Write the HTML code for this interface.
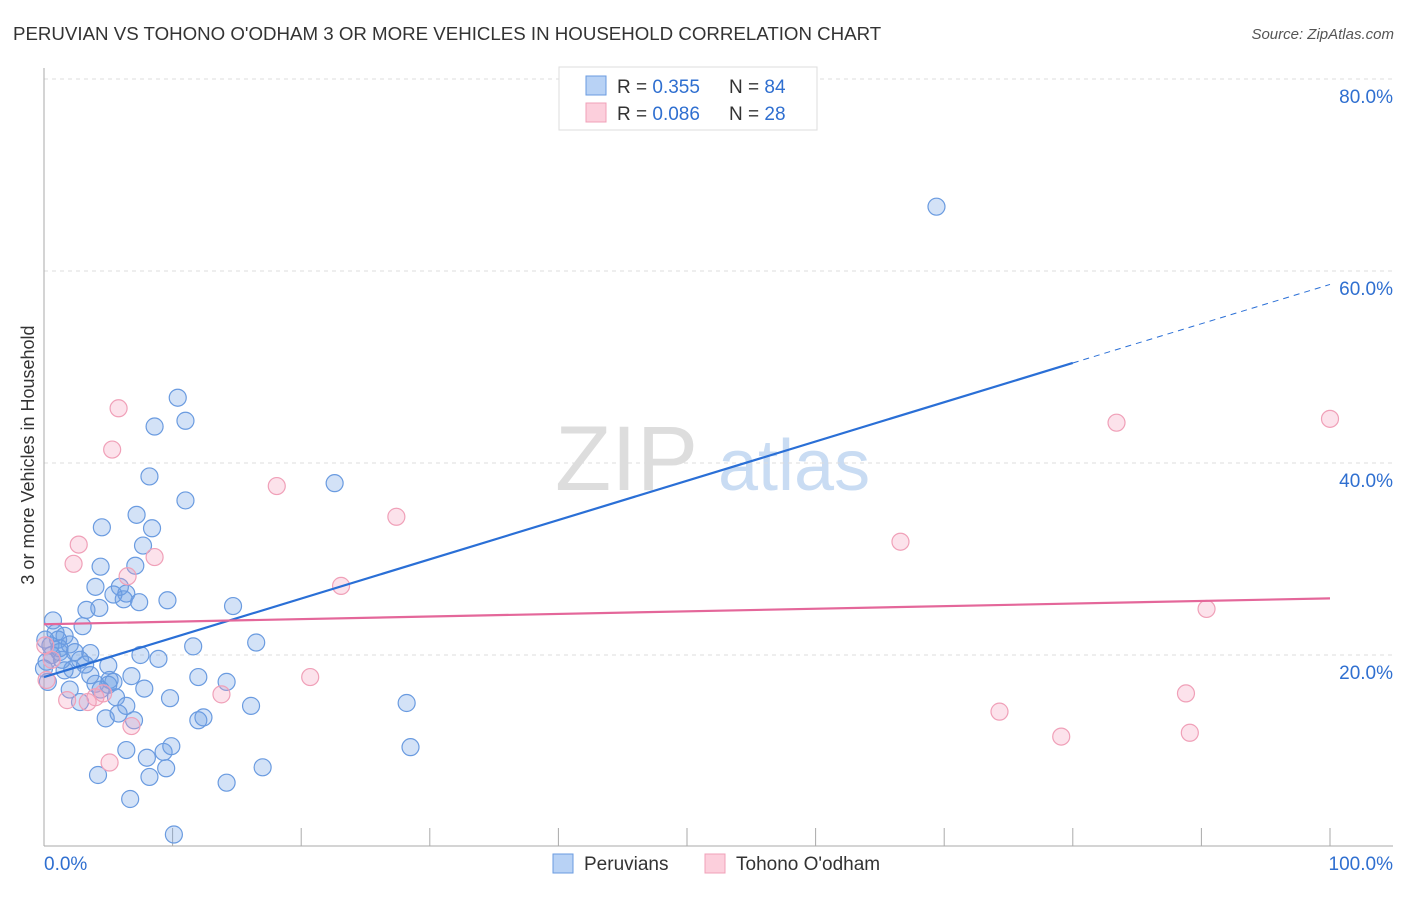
<!DOCTYPE html>
<html><head><meta charset="utf-8"><style>
body{margin:0;background:#fff;font-family:"Liberation Sans",sans-serif}
svg text{font-family:"Liberation Sans",sans-serif}
</style></head><body>
<svg id="c" width="1406" height="892">
<text x="13" y="40" font-size="18.7" fill="#333">PERUVIAN VS TOHONO O'ODHAM 3 OR MORE VEHICLES IN HOUSEHOLD CORRELATION CHART</text>
<text x="1394" y="39" font-size="15" fill="#555" font-style="italic" text-anchor="end">Source: ZipAtlas.com</text>
<g><text x="555" y="490" font-size="92" fill="#ddd" font-family="Liberation Serif,serif">ZIP</text><text x="718" y="490" font-size="72" fill="#c9dcf3">atlas</text></g>
<text transform="translate(34,455) rotate(-90)" font-size="18" fill="#333" text-anchor="middle">3 or more Vehicles in Household</text>
<g id="grid"></g><g id="pts"></g><g id="lines"></g>
<g>
<rect x="559" y="67" width="258" height="63" fill="#fff" stroke="#ddd"/>
<rect x="586" y="76" width="20" height="19" fill="#b8d2f5" stroke="#6a9be0"/>
<rect x="586" y="103" width="20" height="19" fill="#fccfdc" stroke="#f0a0b8"/>
<text x="617" y="93" font-size="19" fill="#333">R = <tspan fill="#2f6fd0">0.355</tspan><tspan x="729">N = </tspan><tspan fill="#2f6fd0">84</tspan></text>
<text x="617" y="120" font-size="19" fill="#333">R = <tspan fill="#2f6fd0">0.086</tspan><tspan x="729">N = </tspan><tspan fill="#2f6fd0">28</tspan></text>
</g>
<g>
<rect x="553" y="854" width="20" height="19" fill="#b8d2f5" stroke="#6a9be0"/>
<text x="584" y="870" font-size="19" fill="#333">Peruvians</text>
<rect x="705" y="854" width="20" height="19" fill="#fccfdc" stroke="#f0a0b8"/>
<text x="736" y="870" font-size="19" fill="#333">Tohono O'odham</text>
</g>
</svg>
<script>
const blueX=[10.4,8.6,11.0,8.2,11.0,22.6,69.4,7.2,8.4,4.5,7.7,7.1,4.4,4.0,5.9,6.4,6.2,5.4,7.4,9.6,4.3,3.3,14.7,3.0,0.9,1.6,1.1,0.5,2.0,11.6,16.5,2.4,3.6,1.2,1.4,2.8,7.5,8.9,5.0,2.2,1.6,3.6,0.3,5.1,5.4,6.8,12.0,14.2,5.0,4.0,5.6,7.8,9.8,2.8,16.1,28.2,6.4,4.8,7.0,12.0,12.4,5.8,6.4,8.0,9.3,9.9,28.5,4.2,8.2,9.5,17.0,14.2,6.7,10.1,0.6,0.2,0.0,1.2,2.0,4.4,3.2,0.7,0.1];
const blueY=[46.8,43.8,44.4,38.6,36.1,37.9,66.7,34.6,33.2,33.3,31.4,29.3,29.2,27.1,27.1,26.4,25.8,26.3,25.5,25.7,24.9,24.7,25.1,23.0,22.3,22.0,21.6,21.0,21.1,20.9,21.3,20.3,20.2,20.3,19.5,19.5,20.0,19.6,18.9,18.5,18.4,17.9,17.2,17.4,17.2,17.8,17.7,17.2,16.9,17.0,15.6,16.5,15.5,15.1,14.7,15.0,14.7,13.4,13.2,13.2,13.5,13.9,10.1,9.3,9.9,10.5,10.4,7.5,7.3,8.2,8.3,6.7,5.0,1.3,20.0,19.3,18.6,20.7,16.4,16.4,19.0,23.6,21.6];
const pinkX=[5.8,5.3,18.1,27.4,2.7,8.6,2.3,6.5,23.1,66.6,83.4,100,90.4,20.7,13.8,88.8,74.3,79.1,89.1,1.8,4.0,4.6,3.4,6.8,5.1,0.2,0.6,0.1];
const pinkY=[45.7,41.4,37.6,34.4,31.5,30.2,29.5,28.2,27.2,31.8,44.2,44.6,24.8,17.7,15.9,16.0,14.1,11.5,11.9,15.3,15.6,16.0,15.1,12.6,8.8,17.4,19.5,21.0];
const blueLine=[17.7,58.6]; const blueSolidEnd=80;
const pinkLine=[23.2,25.9];
const yTicks=[20,40,60,80];
const xTicks=[0,10,20,30,40,50,60,70,80,90,100];
const NS='http://www.w3.org/2000/svg';
const sx=v=>44+v*12.86, sy=v=>847-v*9.6;
function mk(p,t,a){const e=document.createElementNS(NS,t);for(const k in a)e.setAttribute(k,a[k]);p.appendChild(e);return e;}
const g=document.getElementById('grid');
yTicks.forEach(t=>{const l=mk(g,'line',{x1:44,x2:1393,y1:sy(t),y2:sy(t),stroke:'#ddd','stroke-dasharray':'4,4'});


const tx=mk(g,'text',{x:1393,y:sy(t)+24,'font-size':19,fill:'#2f6fd0','text-anchor':'end'});tx.textContent=t.toFixed(1)+'%';

});
mk(g,'line',{x1:44,x2:44,y1:68,y2:846,stroke:'#aaa'});
mk(g,'line',{x1:44,x2:1393,y1:846,y2:846,stroke:'#aaa'});
xTicks.forEach(t=>{const l=mk(g,'line',{x1:sx(t),x2:sx(t),y1:828,y2:846,stroke:'#aaa'});

});
[[0,'0.0%','start',44],[100,'100.0%','end',1393]].forEach(d=>{const tx=mk(g,'text',{x:d[3],y:870,'font-size':19,fill:'#2f6fd0','text-anchor':d[2]});tx.textContent=d[1];

});
const p=document.getElementById('pts');
blueX.forEach((x,i)=>{const c=mk(p,'circle',{cx:sx(x),cy:sy(blueY[i]),r:8.5,fill:'rgba(110,160,230,0.3)',stroke:'#6a9be0','stroke-width':1.2});

});
pinkX.forEach((x,i)=>{const c=mk(p,'circle',{cx:sx(x),cy:sy(pinkY[i]),r:8.5,fill:'rgba(245,160,190,0.3)',stroke:'#f0a0b8','stroke-width':1.2});

});
const L=document.getElementById('lines');
const by=x=>blueLine[0]+(blueLine[1]-blueLine[0])*x/100;
let l1=mk(L,'line',{x1:sx(0),y1:sy(by(0)),x2:sx(blueSolidEnd),y2:sy(by(blueSolidEnd)),stroke:'#2a6fd6','stroke-width':2.2});


let l2=mk(L,'line',{x1:sx(blueSolidEnd),y1:sy(by(blueSolidEnd)),x2:sx(100),y2:sy(by(100)),stroke:'#2a6fd6','stroke-width':1,'stroke-dasharray':'6,5'});


let l3=mk(L,'line',{x1:sx(0),y1:sy(pinkLine[0]),x2:sx(100),y2:sy(pinkLine[1]),stroke:'#e4679a','stroke-width':2.2});


</script>
</body></html>
